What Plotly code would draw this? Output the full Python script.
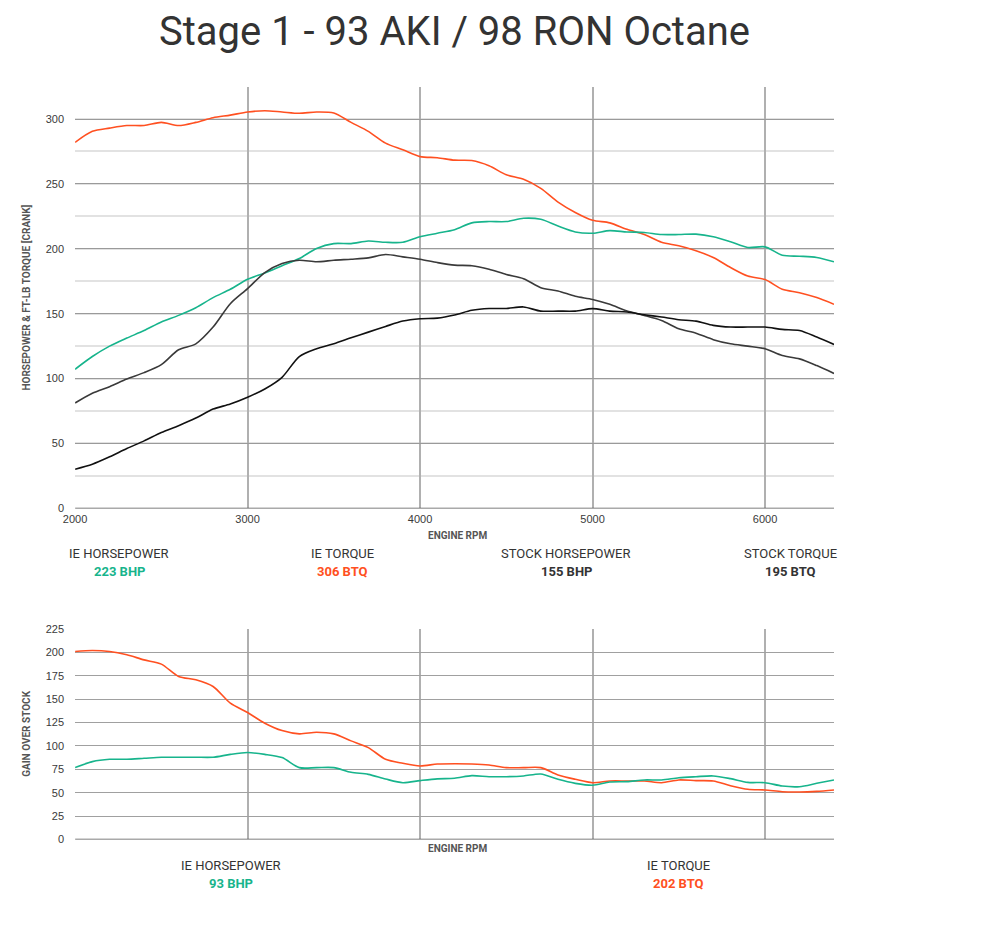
import plotly.graph_objects as go

rpm = [2000, 2100, 2200, 2300, 2400, 2500, 2600, 2700, 2800, 2900,
       3000, 3100, 3200, 3300, 3400, 3500, 3600, 3700, 3800, 3900,
       4000, 4100, 4200, 4300, 4400, 4500, 4600, 4700, 4800, 4900,
       5000, 5100, 5200, 5300, 5400, 5500, 5600, 5700, 5800, 5900,
       6000, 6100, 6200, 6300, 6400]

ie_torque = [282, 290.5, 293, 295, 295, 297.4, 295, 297.4, 301, 303,
             305.4, 306.4, 305.4, 304.4, 305.4, 304.6, 297.4, 290.5, 281.4, 276.3,
             271, 270.2, 268.3, 268, 264, 257, 253.6, 246.6, 236, 228,
             222, 220, 215, 211, 205, 202.3, 198.5, 193.3, 185.6, 179,
             176.3, 168.8, 166.2, 162.4, 157.2]

ie_hp = [107.2, 117, 125, 131.2, 137, 143.6, 148.7, 154.6, 162.4, 168.8,
         176.5, 181.4, 187, 192.5, 200.3, 204, 204, 206, 205, 205,
         209.3, 212, 214.7, 220, 221, 221, 223.5, 222.7, 217.5, 213,
         212, 214, 213, 212.6, 211, 211, 211.3, 209.3, 205.4, 201,
         201.5, 195, 194.3, 193.3, 190]

stock_torque = [81.2, 88.7, 93.8, 99.7, 104.6, 110.8, 122.2, 126.8, 139.7, 157.7,
                169.3, 181.7, 188.7, 191.2, 190, 191.2, 192, 193, 195.6, 193.8,
                192, 189.4, 187.4, 187, 184.3, 180.2, 177, 170, 167.5, 163.4,
                161, 157.2, 152, 148.7, 144.8, 138.4, 135, 130, 126.8, 125,
                123, 117.8, 115.2, 110, 104]

stock_hp = [30.2, 34, 39.7, 46.1, 52, 58.5, 63.7, 69.6, 76.5, 80.4,
            85.6, 92, 101, 117, 123, 126.8, 131.4, 135.8, 140.2, 144.3,
            146.1, 146.6, 149, 152.6, 154, 154, 155.2, 152, 152, 152,
            153.9, 152, 151.3, 149.2, 147.4, 145.4, 144.3, 141, 139.7, 139.7,
            139.7, 137.9, 137, 132, 126.3]

gain_torque = [201, 202, 201, 197.5, 192, 187.5, 174.3, 170.7, 163.6, 145.7,
               135.7, 124.3, 116.4, 112.9, 114.6, 112.9, 105.4, 98.2, 85.7, 81.4,
               78.6, 80.6, 81, 80.7, 79.6, 76.8, 76.8, 76.8, 68.9, 64.3,
               60.7, 62.5, 62.5, 62.5, 60.7, 63.6, 62.9, 62.5, 57.5, 53.6,
               52.9, 51, 50.7, 51.4, 52.9]

gain_hp = [76.8, 83.2, 85.7, 85.7, 86.8, 87.9, 87.9, 87.9, 87.9, 91,
           92.9, 91, 87.5, 76.8, 76.8, 76.8, 71.8, 69.6, 64.6, 60.7,
           62.9, 64.8, 65.4, 68.2, 67.1, 67.1, 67.9, 70, 64.3, 60,
           57.9, 61.4, 61.8, 63.6, 63.6, 66, 67.1, 67.9, 65, 61,
           60.7, 57.1, 56.4, 60, 63.6]

title_text = "Stage 1 - 93 AKI / 98 RON Octane"
top_labels = [("IE HORSEPOWER", "223 BHP"), ("IE TORQUE", "306 BTQ"),
              ("STOCK HORSEPOWER", "155 BHP"), ("STOCK TORQUE", "195 BTQ")]
bottom_labels = [("IE HORSEPOWER", "93 BHP"), ("IE TORQUE", "202 BTQ")]

ORANGE = "#FF5021"
GREEN = "#17B48C"
DARK = "#3a3a3a"
BLACK = "#111111"

W, H = 990, 938
# page-pixel helpers (slight correction for how the page is photographed)
def px(x):
    return ((x - 10.9) / 0.988) / W
def py(y):
    return 1 - ((y - 4.2) / 0.99) / H

fig = go.Figure()
line_kw = dict(width=1.6, shape="spline", smoothing=0.8)
fig.add_trace(go.Scatter(x=rpm, y=ie_torque, mode="lines", line=dict(color=ORANGE, **line_kw), xaxis="x", yaxis="y"))
fig.add_trace(go.Scatter(x=rpm, y=ie_hp, mode="lines", line=dict(color=GREEN, **line_kw), xaxis="x", yaxis="y"))
fig.add_trace(go.Scatter(x=rpm, y=stock_torque, mode="lines", line=dict(color=DARK, **line_kw), xaxis="x", yaxis="y"))
fig.add_trace(go.Scatter(x=rpm, y=stock_hp, mode="lines", line=dict(color=BLACK, **line_kw), xaxis="x", yaxis="y"))
fig.add_trace(go.Scatter(x=rpm, y=gain_torque, mode="lines", line=dict(color=ORANGE, **line_kw), xaxis="x2", yaxis="y2"))
fig.add_trace(go.Scatter(x=rpm, y=gain_hp, mode="lines", line=dict(color=GREEN, **line_kw), xaxis="x2", yaxis="y2"))

tickfont = dict(family="Liberation Sans, Arial, sans-serif", size=11, color="#3a3a3a")
xdom = [px(74), px(833)]

fig.update_layout(
    width=W, height=H,
    margin=dict(l=0, r=0, t=0, b=0),
    paper_bgcolor="white", plot_bgcolor="white",
    showlegend=False,
    xaxis=dict(domain=xdom, range=[2000, 6400], tickvals=[2000, 3000, 4000, 5000, 6000],
               showgrid=True, gridcolor="#b0b0b0", gridwidth=1.5,
               showline=False, zeroline=False, ticks="", tickfont=tickfont,
               anchor="y", ticklabelstandoff=3),
    yaxis=dict(domain=[py(508), py(85)], range=[0, 325], tickvals=[0, 50, 100, 150, 200, 250, 300],
               showgrid=True, gridcolor="#9a9a9a", gridwidth=1,
               minor=dict(dtick=25, tick0=0, showgrid=True, gridcolor="#e2e2e2", gridwidth=2),
               showline=False, zeroline=False, ticks="", tickfont=tickfont,
               anchor="x", ticklabelstandoff=10),
    xaxis2=dict(domain=xdom, range=[2000, 6400], tickvals=[2000, 3000, 4000, 5000, 6000],
                showticklabels=False,
                showgrid=True, gridcolor="#b0b0b0", gridwidth=1.5,
                showline=False, zeroline=False, ticks="", anchor="y2"),
    yaxis2=dict(domain=[py(840), py(629)], range=[0, 225], dtick=25, tick0=0,
                showgrid=True, gridcolor="#a0a0a0", gridwidth=1,
                showline=False, zeroline=False, ticks="", tickfont=tickfont,
                anchor="x2", ticklabelstandoff=10),
)

fig.add_shape(type="line", xref="x", yref="y", x0=2000, x1=6400, y0=0, y1=0,
              line=dict(color="#555555", width=1.5))
fig.add_shape(type="line", xref="x2", yref="y2", x0=2000, x1=6400, y0=0, y1=0,
              line=dict(color="#555555", width=1.5))

ann = []
ann.append(dict(text=title_text, x=px(453), y=1.0, xref="paper", yref="paper",
                showarrow=False, xanchor="center", yanchor="top",
                font=dict(family="Roboto, sans-serif", size=40, color="#333333")))

small_bold = dict(family="Liberation Sans Narrow, Roboto, sans-serif", size=10, color="#555555")
ann.append(dict(text="<b>HORSEPOWER &amp; FT-LB TORQUE [CRANK]</b>", x=px(26), y=py(296.5),
                xref="paper", yref="paper", showarrow=False, textangle=-90,
                xanchor="center", yanchor="middle", font=small_bold))
ann.append(dict(text="<b>GAIN OVER STOCK</b>", x=px(26), y=py(734),
                xref="paper", yref="paper", showarrow=False, textangle=-90,
                xanchor="center", yanchor="middle", font=small_bold))
ann.append(dict(text="<b>ENGINE RPM</b>", x=px(456), y=py(535),
                xref="paper", yref="paper", showarrow=False,
                xanchor="center", yanchor="middle", font=small_bold))
ann.append(dict(text="<b>ENGINE RPM</b>", x=px(456), y=py(849),
                xref="paper", yref="paper", showarrow=False,
                xanchor="center", yanchor="middle", font=small_bold))

label_font = dict(family="Roboto, sans-serif", size=13, color="#333333")
top_x = [118, 341, 565, 789]
top_colors = [GREEN, ORANGE, "#333333", "#333333"]
for (lab, val), xc, col in zip(top_labels, top_x, top_colors):
    ann.append(dict(text=lab, x=px(xc), y=py(553), xref="paper", yref="paper",
                    showarrow=False, xanchor="center", yanchor="middle", font=label_font))
    ann.append(dict(text="<b>" + val + "</b>", x=px(xc), y=py(571), xref="paper", yref="paper",
                    showarrow=False, xanchor="center", yanchor="middle",
                    font=dict(family="Roboto, sans-serif", size=13, color=col)))
bot_x = [230, 677]
bot_colors = [GREEN, ORANGE]
for (lab, val), xc, col in zip(bottom_labels, bot_x, bot_colors):
    ann.append(dict(text=lab, x=px(xc), y=py(866), xref="paper", yref="paper",
                    showarrow=False, xanchor="center", yanchor="middle", font=label_font))
    ann.append(dict(text="<b>" + val + "</b>", x=px(xc), y=py(884), xref="paper", yref="paper",
                    showarrow=False, xanchor="center", yanchor="middle",
                    font=dict(family="Roboto, sans-serif", size=13, color=col)))

fig.update_layout(annotations=ann)
fig.write_html("out.html", config={"displayModeBar": False},
               post_script="document.body.style.margin='0';document.body.style.overflow='hidden';document.documentElement.style.overflow='hidden';")
